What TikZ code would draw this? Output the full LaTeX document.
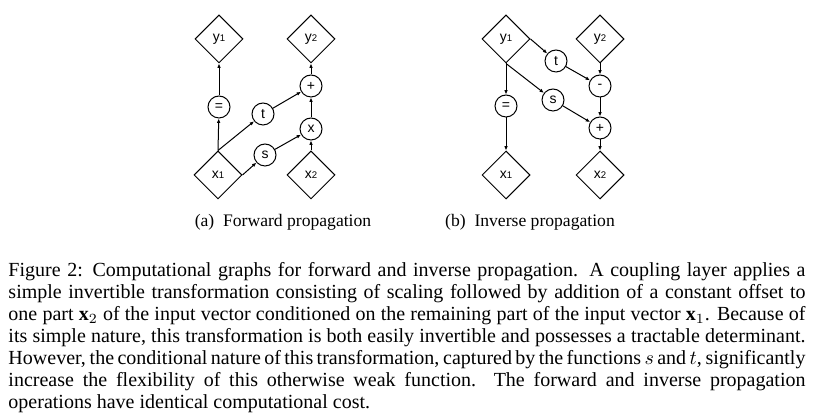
\documentclass[tikz,border=0pt]{standalone}
\usepackage{fontspec}
\setmainfont{Liberation Serif}
\setsansfont{Liberation Sans}
\usetikzlibrary{shapes.geometric,arrows.meta}
\newcommand{\sub}[1]{{\fontsize{4.8}{5}\selectfont #1}}
\begin{document}
\begin{tikzpicture}[x=0.5pt, y=-0.5pt,
				var/.style={draw, diamond, aspect=1, minimum size=24pt, inner sep=0pt,
					font=\sffamily\fontsize{7}{8}\selectfont},
				op/.style={draw, circle, minimum size=11pt, inner sep=0pt,
					font=\sffamily\fontsize{7}{8}\selectfont},
				line width=0.5pt, >={Latex[length=2.2pt,width=1.8pt]}]
				\useasboundingbox (0,0) rectangle (813,415);
				% (a) forward
				\node[var] (fy1) at (219,39) {y\sub{1}};
				\node[var] (fy2) at (311,39) {y\sub{2}};
				\node[op] (feq) at (219,107) {=};
				\node[op] (ft) at (263,114) {t};
				\node[op] (fplus) at (311,86) {+};
				\node[op] (fmul) at (311,129) {x};
				\node[op] (fs) at (265,155) {s};
				\node[var] (fx1) at (218,175) {x\sub{1}};
				\node[var] (fx2) at (311,175) {x\sub{2}};
				\draw[->] (fx1.north) -- (feq);
				\draw[->] (feq) -- (fy1.south);
				\draw[->] (fx1.north) -- (ft);
				\draw[->] (fx1.east) -- (fs);
				\draw[->] (fs) -- (fmul);
				\draw[->] (ft) -- (fplus);
				\draw[->] (fx2.north) -- (fmul);
				\draw[->] (fmul) -- (fplus);
				\draw[->] (fplus) -- (fy2.south);
				% (b) inverse
				\node[var] (iy1) at (506,39) {y\sub{1}};
				\node[var] (iy2) at (600,39) {y\sub{2}};
				\node[op] (it) at (556,61) {t};
				\node[op] (iminus) at (600,86) {-};
				\node[op] (ieq) at (506,106) {=};
				\node[op] (is) at (553,100) {s};
				\node[op] (iplus) at (600,128) {+};
				\node[var] (ix1) at (506,175) {x\sub{1}};
				\node[var] (ix2) at (600,175) {x\sub{2}};
				\draw[->] (iy1.east) -- (it);
				\draw[->] (iy1.south) -- (is);
				\draw[->] (iy1.south) -- (ieq);
				\draw[->] (ieq) -- (ix1.north);
				\draw[->] (it) -- (iminus);
				\draw[->] (iy2.south) -- (iminus);
				\draw[->] (iminus) -- (iplus);
				\draw[->] (is) -- (iplus);
				\draw[->] (iplus) -- (ix2.north);
				% captions
				\node[font=\fontsize{8.8}{10}\selectfont] (capa) at (283,222) {(a)\enspace Forward propagation};
				\node[font=\fontsize{8.8}{10}\selectfont] (capb) at (530,222) {(b)\enspace Inverse propagation};
				\node[anchor=north west, inner sep=0pt, text width=398.5pt, align=justify,
					font=\fontsize{10}{11}\selectfont] (cap) at (8,262)
					{Figure 2: Computational graphs for forward and inverse propagation. A coupling layer applies a\linebreak
					simple invertible transformation consisting of scaling followed by addition of a constant offset to\linebreak
					one part $\mathbf{x}_2$ of the input vector conditioned on the remaining part of the input vector $\mathbf{x}_1$. Because of\linebreak
					its simple nature, this transformation is both easily invertible and possesses a tractable determinant.\linebreak
					However, the conditional nature of this transformation, captured by the functions $s$ and $t$, significantly\linebreak
					increase the flexibility of this otherwise weak function.\ \ The forward and inverse propagation\linebreak
					operations have identical computational cost.};
			\end{tikzpicture}
\end{document}
